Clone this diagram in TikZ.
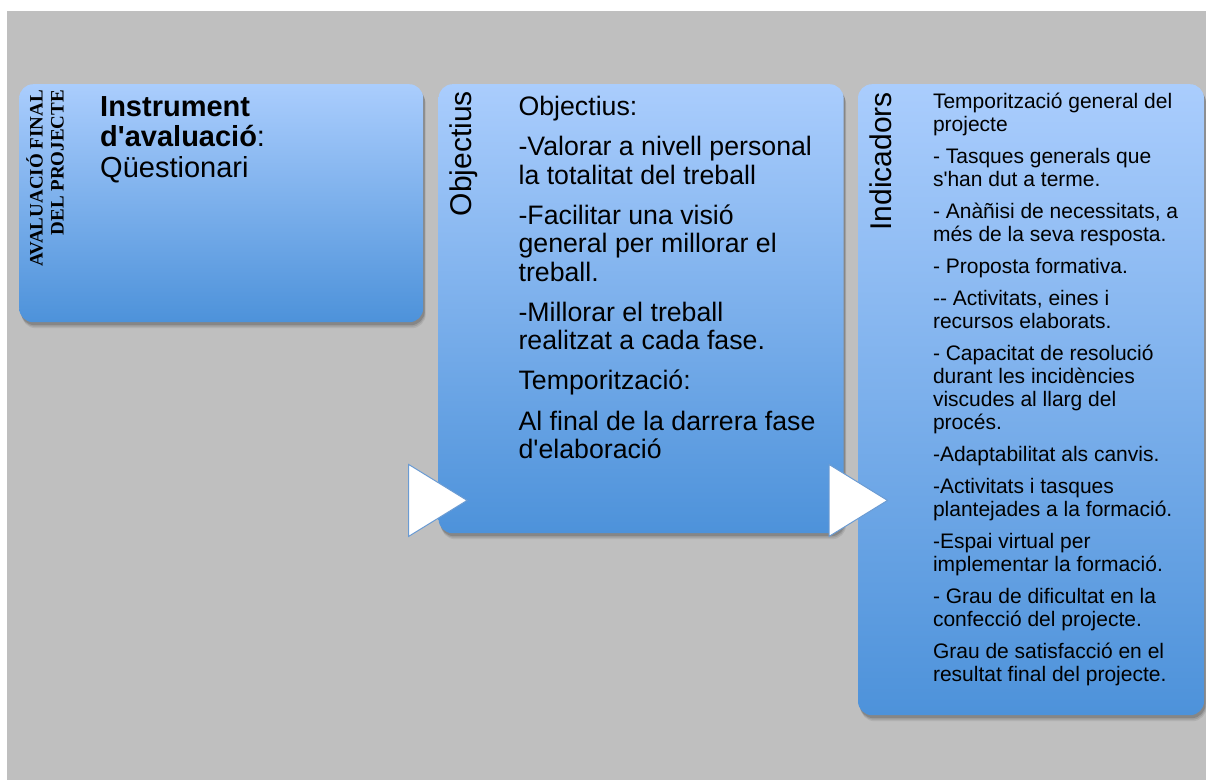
\documentclass[tikz,border=0pt]{standalone}
\usepackage{fontspec}
\setmainfont{Liberation Sans}
\newfontfamily\evalserif{Liberation Serif}
\usepackage{xcolor}
\usepackage{tikz}
\usetikzlibrary{positioning,shadows,calc,shapes.geometric}

\definecolor{bgGray}{HTML}{BFBFBF}
\definecolor{boxTop}{HTML}{AACDFD}
\definecolor{boxBottom}{HTML}{4D92DA}
\definecolor{triEdge}{HTML}{6A9BD3}
\newcommand{\apos}{\textquotesingle}
\newcommand{\fixedlines}{\lineskiplimit -20pt\relax}

\begin{document}
\begin{tikzpicture}[
  box/.style={anchor=north west, rounded corners=14pt, top color=boxTop, bottom color=boxBottom, inner sep=0pt,
      drop shadow={shadow xshift=2.5pt, shadow yshift=-6pt, fill=black, opacity=0.08},
      drop shadow={shadow xshift=2pt, shadow yshift=-4.5pt, fill=black, opacity=0.1},
      drop shadow={shadow xshift=1.5pt, shadow yshift=-3pt, fill=black, opacity=0.15}},
  sidetitle/.style={rotate=90, anchor=north east, inner sep=0pt, font=\fontsize{30}{32}\selectfont},
  body/.style={anchor=north west, inner sep=0pt, align=left},
  tri/.style={isosceles triangle, isosceles triangle stretches, shape border rotate=0, minimum width=72pt,
      minimum height=58.5pt, inner sep=0pt, fill=white, draw=triEdge, line width=1pt, anchor=apex},
]

  \useasboundingbox (0,0) rectangle (1206pt,-780pt);
  \fill[bgGray] (7pt,-11pt) rectangle (1206pt,-780pt);

  % final evaluation
  \node (eval-box) [box, minimum width=404pt, minimum height=238pt] at (19pt,-84pt) {};
  \node (eval-title) [below right=6pt and 7pt of eval-box.north west, rotate=90, anchor=north east, inner sep=0pt, align=right,
      font=\evalserif\bfseries\fontsize{19}{21}\selectfont] {AVALUACIÓ FINAL\\DEL PROJECTE};
  \node (eval-text) [below right=12pt and 81pt of eval-box.north west, body,
      font=\fontsize{29}{30.5}\selectfont\fixedlines] {\textbf{Instrument}\\\textbf{d\apos avaluació}:\\Qüestionari};

  % objectives
  \node (obj-box) [right=15pt of eval-box.north east, box, minimum width=405pt, minimum height=449pt] {};
  \node (obj-title) [below right=7pt and 11pt of obj-box.north west, sidetitle] {Objectius};
  \node (obj-text) [below right=12pt and 80pt of obj-box.north west, body,
      font=\fontsize{26.7}{28.4}\selectfont\fixedlines] {Objectius:\\[11.8pt]
      -Valorar a nivell personal\\la totalitat del treball\\[11.8pt]
      -Facilitar una visió\\general per millorar el\\treball.\\[11.8pt]
      -Millorar el treball\\realitzat a cada fase.\\[11.8pt]
      Temporització:\\[11.8pt]
      Al final de la darrera fase\\d\apos elaboració};

  % indicators
  \node (ind-box) [right=14pt of obj-box.north east, box, minimum width=346pt, minimum height=631pt] {};
  \node (ind-title) [below right=8pt and 12pt of ind-box.north west, sidetitle] {Indicadors};
  \node (ind-text) [below right=9pt and 75pt of ind-box.north west, body,
      font=\fontsize{21}{23}\selectfont\fixedlines] {Temporització general del\\projecte\\[9pt]
      - Tasques generals que\\s\apos han dut a terme.\\[9pt]
      - Anàñisi de necessitats, a\\més de la seva resposta.\\[9pt]
      - Proposta formativa.\\[9pt]
      -{}- Activitats, eines i\\recursos elaborats.\\[9pt]
      - Capacitat de resolució\\durant les incidències\\viscudes al llarg del\\procés.\\[9pt]
      -Adaptabilitat als canvis.\\[9pt]
      -Activitats i tasques\\plantejades a la formació.\\[9pt]
      -Espai virtual per\\implementar la formació.\\[9pt]
      - Grau de dificultat en la\\confecció del projecte.\\[9pt]
      Grau de satisfacció en el\\resultat final del projecte.};

  % step arrows
  \node (step-1) [tri] at ($(obj-box.south west)+(30pt,33pt)$) {};
  \node (step-2) [tri] at ($(obj-box.south east)+(45pt,33pt)$) {};
\end{tikzpicture}
\end{document}
